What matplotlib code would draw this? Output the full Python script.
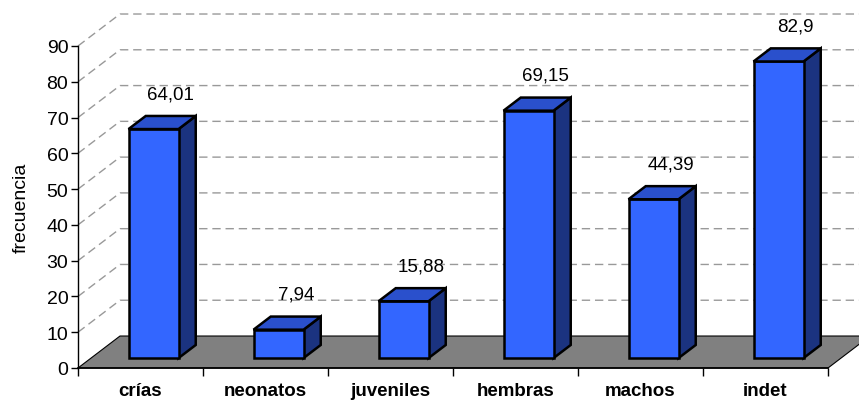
import numpy as np
import matplotlib
matplotlib.use('Agg')
import matplotlib.pyplot as plt
from matplotlib.patches import Polygon

plt.rcParams['font.family'] = ['Liberation Sans', 'DejaVu Sans']

categorias = ['crías', 'neonatos', 'juveniles', 'hembras', 'machos', 'indet']
valores = [64.01, 7.94, 15.88, 69.15, 44.39, 82.9]
etiquetas = ['64,01', '7,94', '15,88', '69,15', '44,39', '82,9']
yticks = np.arange(0, 100, 10)

# 3d look: depth offset in data units
DX = 0.336
DY = 8.94
D1 = 0.31   # front face depth of bars
D2 = 0.72   # back face depth of bars
W = 0.4     # bar width

c_front = '#3366FF'
c_top = '#2A50CC'
c_side = '#1B3380'

fig = plt.figure(figsize=(8.59, 4.02), dpi=100)
ax = fig.add_axes([78/859, 33/402, 750/859, 322/402])
ax.set_xlim(-0.5, len(categorias) - 0.5)
ax.set_ylim(0, 90)

x0, x1 = -0.5, len(categorias) - 0.5

# floor
floor = Polygon([(x0, 0), (x1, 0), (x1 + DX, DY), (x0 + DX, DY)],
                closed=True, facecolor='#808080', edgecolor='black', lw=0.8,
                clip_on=False, zorder=1)
ax.add_patch(floor)

# grid lines (side wall + back wall)
for v in yticks[1:]:
    ax.plot([x0, x0 + DX, x1 + DX + 0.5], [v, v + DY, v + DY], color='#999999',
            lw=1, dashes=(6, 3.5), clip_on=False, zorder=1.5)

# bars
for i, v in enumerate(valores):
    l = i - W / 2 + D1 * DX
    r = i + W / 2 + D1 * DX
    b = D1 * DY
    t = v + D1 * DY
    ddx = (D2 - D1) * DX
    ddy = (D2 - D1) * DY
    front = Polygon([(l, b), (r, b), (r, t), (l, t)], closed=True,
                    facecolor=c_front, edgecolor='black', lw=1.8, clip_on=False, zorder=3)
    top = Polygon([(l, t), (r, t), (r + ddx, t + ddy), (l + ddx, t + ddy)], closed=True,
                  facecolor=c_top, edgecolor='black', lw=1.8, clip_on=False, zorder=3)
    side = Polygon([(r, b), (r + ddx, b + ddy), (r + ddx, t + ddy), (r, t)], closed=True,
                   facecolor=c_side, edgecolor='black', lw=1.8, clip_on=False, zorder=3)
    ax.add_patch(side)
    ax.add_patch(front)
    ax.add_patch(top)
    ax.text(i + D2 * DX, v + D2 * DY + 6.2, etiquetas[i], ha='center', va='center',
            fontsize=13.5, zorder=4)

for s in ['top', 'right']:
    ax.spines[s].set_visible(False)
ax.spines['left'].set_linewidth(1)
ax.spines['bottom'].set_linewidth(1.2)
ax.spines['bottom'].set_zorder(2)

ax.set_yticks(yticks)
ax.set_yticklabels([str(v) for v in yticks], fontsize=14)
ax.tick_params(axis='y', length=5, width=1, pad=2)

ax.set_xticks(np.arange(len(categorias)))
ax.set_xticklabels(categorias, fontsize=13.5, fontweight='bold')
ax.set_xticks(np.arange(len(categorias) + 1) - 0.5, minor=True)
ax.tick_params(axis='x', which='major', length=0, pad=10)
ax.tick_params(axis='x', which='minor', length=6, width=1)

ax.set_ylabel('frecuencia', fontsize=14, labelpad=12)
ax.patch.set_alpha(0)

fig.savefig('out.png', dpi=100)
